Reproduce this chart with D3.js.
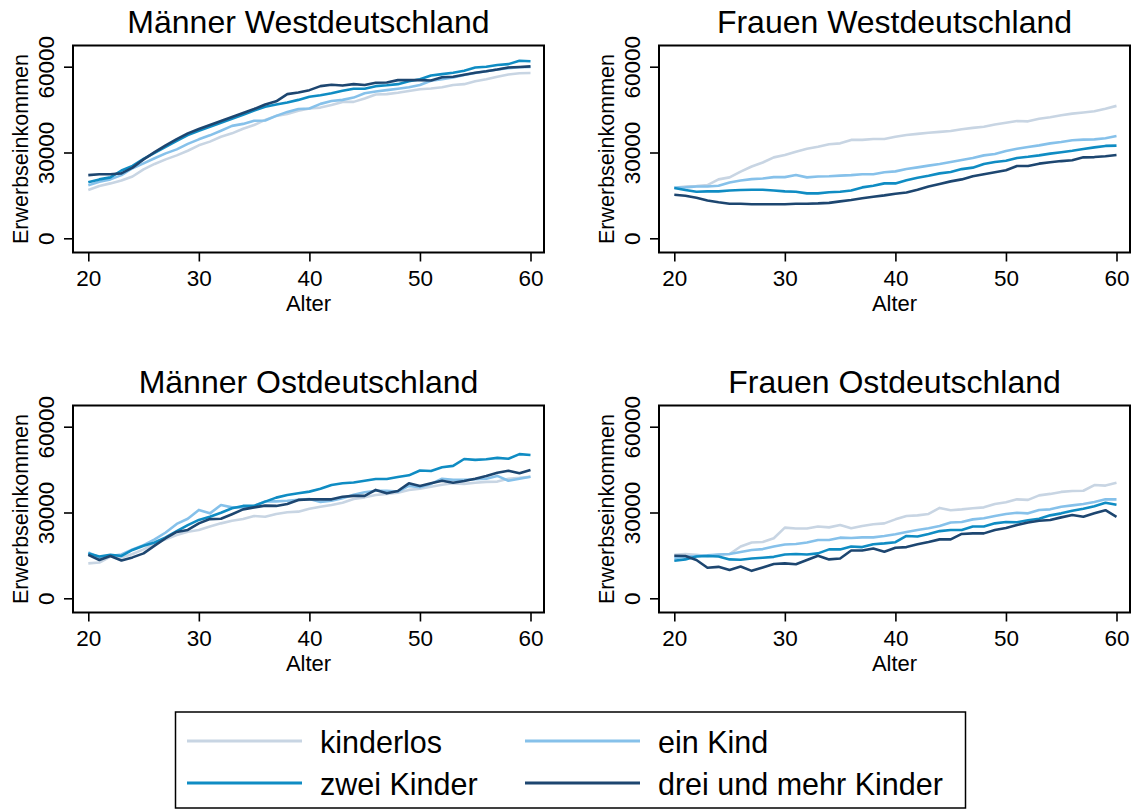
<!DOCTYPE html>
<html>
<head>
<meta charset="utf-8">
<script src="https://cdn.jsdelivr.net/npm/d3@7"></script>
<style>
  body { margin: 0; background: #fff; }
  text { font-family: "Liberation Sans", Arial, sans-serif; fill: #000; }
</style>
</head>
<body>
<div id="root"></div>
<script>
// Alter (x-Achse)
const ages = [20, 21, 22, 23, 24, 25, 26, 27, 28, 29, 30, 31, 32, 33, 34, 35, 36, 37, 38, 39, 40,
  41, 42, 43, 44, 45, 46, 47, 48, 49, 50, 51, 52, 53, 54, 55, 56, 57, 58, 59, 60];
const xTicks = [20, 30, 40, 50, 60];
const yTicks = [0, 30000, 60000];
const groups = ['kinderlos', 'ein Kind', 'zwei Kinder', 'drei und mehr Kinder'];

// Männer Westdeutschland
const mwKinderlos = [16900, 18300, 19200, 20200, 21600, 24100, 26000, 27600, 29000, 30600, 32500, 33800, 35500, 36700, 38300, 39600, 41400, 42800, 43500, 44600, 45400,
  45700, 46600, 47700, 47700, 48900, 50300, 50400, 50900, 51500, 52100, 52400, 52800, 53600, 53900, 54900, 55600, 56500, 57300, 57700, 57800];
const mwEinKind = [18500, 19800, 20600, 22100, 24500, 26200, 28000, 29700, 31100, 33000, 34600, 36000, 37600, 39300, 40000, 41100, 41200, 42800, 44200, 45200, 45400,
  47000, 48000, 48400, 49200, 50700, 51300, 51800, 52300, 52800, 53600, 55100, 55600, 56200, 57100, 57800, 58400, 59000, 59500, 59800, 59900];
const mwZwei = [19600, 20600, 21300, 23700, 25300, 27800, 29900, 32000, 34100, 36100, 37600, 39000, 40400, 41800, 43200, 44700, 46000, 46800, 47500, 48400, 49500,
  50000, 50700, 51600, 52300, 52300, 53200, 53500, 53900, 54900, 55600, 56900, 57400, 57900, 58600, 59700, 60000, 60600, 60900, 62100, 61900];
const mwDrei = [22100, 22400, 22400, 22700, 24700, 27600, 30100, 32500, 34700, 36700, 38200, 39600, 41000, 42400, 43800, 45200, 46800, 47900, 50400, 51000, 51800,
  53200, 53700, 53400, 53900, 53600, 54400, 54500, 55300, 55300, 55300, 55200, 56300, 56500, 57200, 57900, 58400, 59000, 59700, 59900, 60100];

// Frauen Westdeutschland
const fwKinderlos = [17700, 18100, 18300, 18600, 20600, 21300, 23300, 25100, 26500, 28300, 29100, 30300, 31300, 32000, 32900, 33200, 34400, 34400, 34700, 34700, 35500,
  36100, 36500, 36900, 37200, 37500, 38100, 38600, 39000, 39800, 40400, 41000, 40900, 41800, 42300, 43000, 43600, 44000, 44400, 45300, 46300];
const fwEinKind = [17700, 17800, 18100, 18100, 18400, 19500, 20200, 20700, 20900, 21400, 21400, 22100, 21300, 21600, 21700, 21900, 22100, 22400, 22400, 23100, 23400,
  24200, 24800, 25400, 26000, 26700, 27400, 28100, 29000, 29500, 30500, 31300, 31900, 32500, 33200, 33700, 34300, 34500, 34600, 35000, 35800];
const fwZwei = [17600, 16900, 16300, 16400, 16400, 16700, 16900, 17000, 17000, 16700, 16400, 16300, 15700, 15700, 16100, 16300, 16700, 17800, 18400, 19200, 19200,
  20300, 21200, 21900, 22700, 23200, 24200, 24700, 26000, 26700, 27100, 28100, 28500, 29000, 29600, 30100, 30600, 31200, 31800, 32300, 32400];
const fwDrei = [15200, 14900, 14200, 13200, 12600, 12100, 12100, 11900, 11900, 11900, 11900, 12100, 12100, 12200, 12400, 12900, 13400, 14000, 14500, 15000, 15600,
  16000, 17000, 18100, 19000, 19900, 20600, 21700, 22400, 23100, 23800, 25300, 25300, 26100, 26600, 27000, 27300, 28300, 28400, 28700, 29100];

// Männer Ostdeutschland
const moKinderlos = [12200, 12500, 14600, 14300, 15500, 17100, 19200, 20600, 22100, 23300, 23900, 25100, 26200, 27100, 27700, 28800, 28500, 29500, 30100, 30300, 31300,
  32000, 32600, 33400, 34700, 35300, 36100, 36500, 36900, 37900, 38300, 39000, 39700, 40200, 40000, 40400, 40700, 40800, 41800, 42100, 42500];
const moEinKind = [16000, 14300, 14800, 15300, 17100, 18600, 20600, 23000, 26000, 27800, 30900, 29700, 32600, 31800, 31800, 32300, 33900, 33900, 34100, 34400, 34700,
  33700, 34100, 35000, 36200, 37100, 37600, 37600, 37300, 39300, 38800, 40000, 41800, 41400, 41400, 41600, 41800, 42800, 41100, 41800, 42500];
const moZwei = [15700, 14600, 15200, 14800, 16900, 18400, 19500, 21300, 23500, 25600, 27400, 28500, 29900, 31500, 32300, 32300, 33800, 35200, 36100, 36700, 37300,
  38300, 39600, 40200, 40500, 41100, 41700, 41700, 42400, 43000, 44700, 44500, 45800, 46300, 48700, 48400, 48600, 49100, 48800, 50400, 50100];
const moDrei = [15200, 13400, 14800, 13200, 14300, 15700, 18400, 21000, 23200, 23900, 26200, 27700, 27800, 29400, 31100, 31800, 32400, 32300, 33000, 34400, 34600,
  34600, 34600, 35500, 35800, 35800, 37900, 36700, 37500, 40200, 39300, 40200, 41100, 40400, 41000, 41800, 42800, 43900, 44600, 43700, 44900];

// Frauen Ostdeutschland
const foKinderlos = [15200, 15500, 15200, 14800, 15200, 15500, 18100, 19500, 19700, 21000, 24700, 24400, 24400, 25100, 24800, 25600, 24500, 25300, 25900, 26200, 27600,
  28800, 29000, 29500, 31600, 30800, 31100, 31500, 31800, 33000, 33600, 34600, 34400, 36000, 36500, 37200, 37500, 37600, 39600, 39400, 40400];
const foEinKind = [14000, 14600, 14800, 15000, 15300, 15500, 16200, 16900, 17200, 18100, 18800, 19000, 19500, 20400, 20400, 21200, 21100, 21300, 21300, 21800, 22400,
  23200, 23900, 24500, 25300, 26500, 26700, 27600, 28000, 28800, 29500, 29900, 29700, 30900, 31100, 32000, 32500, 33000, 33700, 34600, 34600];
const foZwei = [13100, 13600, 14600, 14800, 14600, 13600, 13500, 13900, 14200, 14500, 15300, 15500, 15300, 15700, 17100, 17100, 18100, 17900, 18900, 19200, 19600,
  21800, 21600, 22500, 23500, 23900, 23900, 25100, 25100, 26200, 26700, 26600, 27300, 27800, 29000, 29700, 30600, 31300, 32200, 33400, 32700];
const foDrei = [14900, 14800, 13400, 10700, 11000, 9900, 11100, 9600, 10800, 12000, 12200, 11900, 13400, 14900, 13600, 13900, 16700, 16700, 17400, 16300, 17700,
  17900, 18900, 19700, 20600, 20600, 22500, 22700, 22700, 23900, 24600, 25600, 26500, 27100, 27400, 28300, 29100, 28500, 29700, 30800, 28500];

const colors = ['#c8d5e3', '#86c1ea', '#0f8cc3', '#1d4670'];

const panels = [
  {title: 'Männer Westdeutschland', left: 73, top: 45.5, series: [mwKinderlos, mwEinKind, mwZwei, mwDrei]},
  {title: 'Frauen Westdeutschland', left: 659, top: 45.5, series: [fwKinderlos, fwEinKind, fwZwei, fwDrei]},
  {title: 'Männer Ostdeutschland', left: 73, top: 405.5, series: [moKinderlos, moEinKind, moZwei, moDrei]},
  {title: 'Frauen Ostdeutschland', left: 659, top: 405.5, series: [foKinderlos, foEinKind, foZwei, foDrei]},
];

const width = 1136;
const height = 809;
const frameW = 471;
const frameH = 207;

const svg = d3.select('#root')
  .append('svg')
  .attr('width', width)
  .attr('height', height);

panels.forEach((p) => {
  const g = svg.append('g').attr('transform', `translate(${p.left},${p.top})`);
  const x = d3.scaleLinear().domain([20, 60]).range([15.3, 457.5]);
  const y = d3.scaleLinear().domain([0, 60000]).range([192.8, 21.2]);

  const line = d3.line()
    .x((d, i) => x(ages[i]))
    .y((d) => y(d));

  g.selectAll('path.series')
    .data(p.series)
    .enter()
    .append('path')
    .attr('class', 'series')
    .attr('fill', 'none')
    .attr('stroke', (d, i) => colors[i])
    .attr('stroke-width', 2.6)
    .attr('stroke-linejoin', 'round')
    .attr('d', line);

  g.append('rect')
    .attr('width', frameW)
    .attr('height', frameH)
    .attr('fill', 'none')
    .attr('stroke', '#000')
    .attr('stroke-width', 2);

  const xAxis = g.append('g')
    .attr('transform', `translate(0,${frameH})`)
    .call(d3.axisBottom(x).tickValues(xTicks).tickSize(9).tickPadding(9).tickSizeOuter(0));
  xAxis.select('.domain').remove();
  xAxis.selectAll('line').attr('stroke-width', 1.6);
  xAxis.selectAll('text').attr('font-size', 22.5).attr('font-family', '"Liberation Sans", Arial, sans-serif');

  const yAxis = g.append('g')
    .call(d3.axisLeft(y).tickValues(yTicks).tickSize(9).tickFormat(d3.format('d')).tickSizeOuter(0));
  yAxis.select('.domain').remove();
  yAxis.selectAll('line').attr('stroke-width', 1.6);
  yAxis.selectAll('text')
    .attr('font-size', 22.5)
    .attr('font-family', '"Liberation Sans", Arial, sans-serif')
    .attr('text-anchor', 'middle')
    .attr('transform', 'rotate(-90)')
    .attr('x', 0)
    .attr('y', -19)
    .attr('dy', 0);

  g.append('text')
    .attr('x', frameW / 2)
    .attr('y', -12.2)
    .attr('text-anchor', 'middle')
    .attr('font-size', 32)
    .text(p.title);

  g.append('text')
    .attr('x', frameW / 2)
    .attr('y', frameH + 58.5)
    .attr('text-anchor', 'middle')
    .attr('font-size', 22)
    .text('Alter');

  g.append('text')
    .attr('transform', `translate(-44.7,${frameH / 2}) rotate(-90)`)
    .attr('text-anchor', 'middle')
    .attr('font-size', 21.5)
    .text('Erwerbseinkommen');
});

// Legende
const legend = svg.append('g');
legend.append('rect')
  .attr('x', 175.5)
  .attr('y', 712)
  .attr('width', 790)
  .attr('height', 96)
  .attr('fill', 'none')
  .attr('stroke', '#000')
  .attr('stroke-width', 1.5);

const item = legend.selectAll('g.item')
  .data(groups)
  .enter()
  .append('g')
  .attr('class', 'item')
  .attr('transform', (d, i) => `translate(${i % 2 === 0 ? 187 : 525},${i < 2 ? 741 : 783})`);

item.append('line')
  .attr('x1', 0)
  .attr('x2', 115)
  .attr('stroke', (d, i) => colors[i])
  .attr('stroke-width', 3);

item.append('text')
  .attr('x', 133)
  .attr('y', 12)
  .attr('font-size', 30.5)
  .text((d) => d);
</script>
</body>
</html>
